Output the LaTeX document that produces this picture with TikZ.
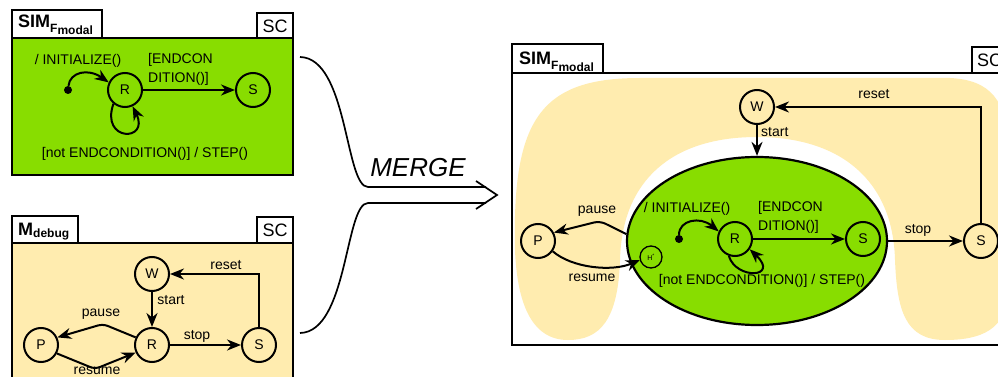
\documentclass[tikz,border=0pt]{standalone}
\usepackage{fontspec}
\setmainfont{Liberation Sans}
\usetikzlibrary{arrows.meta,shapes.geometric}
\definecolor{lime}{RGB}{136,221,0}
\definecolor{cream}{RGB}{255,236,175}
\begin{document}
\begin{tikzpicture}[x=1pt,y=-1pt,
  st/.style={circle,draw,line width=2pt,minimum size=34pt,inner sep=0pt,font=\fontsize{14}{14}\selectfont},
  lbl/.style={font=\fontsize{14}{19}\selectfont,inner sep=0pt},
  tr/.style={line width=2pt,-{Stealth[length=14pt,width=11pt,inset=4.5pt]}},
  frm/.style={line width=2pt},
  ttl/.style={font=\fontsize{18}{18}\selectfont\bfseries,inner sep=0pt,anchor=base west},
  sc/.style={font=\fontsize{18}{18}\selectfont,inner sep=0pt},
  dotst/.style={circle,fill,inner sep=0pt,minimum size=8pt}]
\clip (0,0) rectangle (998,377);

% ---------------- top-left box ----------------
\draw[frm,fill=lime] (12,38) rectangle (293,175);
\draw[frm,fill=white] (12,10) rectangle (102,38);
\draw[frm,fill=white] (257,13) rectangle (293,38);
\node[ttl] (t1) at (18,28) {SIM\raisebox{-5pt}{\fontsize{12}{12}\selectfont F\raisebox{-1.5pt}{modal}}};
\node[sc] (sc1) at (275,26) {SC};
\node[st] (R1) at (125,90) {R};
\node[st] (S1) at (253,90) {S};
\node[dotst] (d1) at (68,90) {};
\draw[tr] (d1) .. controls (70,72) and (88,68) .. (R1.155);
\draw[tr] (R1.east) -- (S1.west);
\draw[tr] (R1.230) .. controls (100,142) and (150,142) .. (R1.-65);
\node[lbl] (l1) at (78,61) {/ INITIALIZE()};
\node[lbl,align=left,anchor=west] (l2) at (148,69.5) {[ENDCON\\DITION()]};
\node[lbl] (l3) at (145,154) {[not ENDCONDITION()] / STEP()};

% ---------------- bottom-left box ----------------
\draw[frm,fill=cream] (12,243) rectangle (293,395);
\draw[frm,fill=white] (12,216) rectangle (78,243);
\draw[frm,fill=white] (257,217) rectangle (293,243);
\node[ttl] (t2) at (18,235) {M\raisebox{-2pt}{\fontsize{12}{12}\selectfont debug}};
\node[sc] (sc2) at (275,230) {SC};
\node[st] (W2) at (152,274) {W};
\node[st] (R2) at (152,345) {R};
\node[st] (P2) at (41,345) {P};
\node[st] (S2) at (259,345) {S};
\draw[tr] (W2.south) -- (R2.north);
\draw[tr] (R2.east) -- (S2.west);
\draw[tr] (S2.north) |- (W2.east);
\draw[tr,rounded corners=5pt] (R2.155) -- (103,324) -- (P2.25);
\draw[tr,rounded corners=5pt] (P2.-28) -- (95,369) -- (R2.205);
\node[lbl] (l4) at (226,265) {reset};
\node[lbl] (l5) at (171,300) {start};
\node[lbl] (l6) at (101,314) {pause};
\node[lbl] (l7) at (197,336) {stop};
\node[lbl] (l8) at (97,371) {resume};

% ---------------- merge arrow ----------------
\coordinate (m1) at (300,57);
\coordinate (m2) at (300,333);
\coordinate (m3) at (486,187);
\coordinate (m4) at (486,203);
\coordinate (h1) at (476,181);
\coordinate (h2) at (497,195);
\coordinate (h3) at (476,209);
\draw[line width=1.7pt] (m1) .. controls (348,58) and (345,187) .. (368,187) -- (m3);
\draw[line width=1.7pt] (m2) .. controls (348,332) and (345,203) .. (368,203) -- (m4);
\draw[line width=1.7pt] (h1) -- (h2) -- (h3);
\node[font=\fontsize{26}{26}\selectfont\itshape,inner sep=0pt] (mg) at (418,168) {MERGE};

% ---------------- right box ----------------
\draw[frm,fill=white] (512,73) rectangle (1012,345);
\fill[cream] (515,250)
  .. controls (512,120) and (540,78) .. (640,78)
  -- (950,78)
  .. controls (990,80) and (1008,100) .. (1008,150)
  -- (1008,290)
  .. controls (1008,330) and (980,340) .. (945,340)
  .. controls (905,340) and (897,310) .. (895,260)
  .. controls (893,180) and (840,137) .. (757,137)
  .. controls (672,137) and (622,180) .. (620,260)
  .. controls (618,320) and (600,340) .. (568,340)
  .. controls (530,340) and (517,300) .. (515,250) -- cycle;
\draw[frm] (512,73) rectangle (1012,345);
\draw[frm,fill=white] (512,44) rectangle (603,73);
\draw[frm,fill=white] (972,47) rectangle (1010,73);
\node[ttl] (t3) at (519,65) {SIM\raisebox{-5pt}{\fontsize{12}{12}\selectfont F\raisebox{-1.5pt}{modal}}};
\node[sc,anchor=west] (sc3) at (977,60) {SC};

\node[ellipse,draw,line width=2.2pt,fill=lime,minimum width=260pt,minimum height=168pt,inner sep=0pt] (E) at (757,241) {};
\node[st] (W3) at (757,107) {W};
\node[st] (P3) at (538,241) {P};
\node[st] (S4) at (981,241) {S};
\node[st] (R3) at (735,239) {R};
\node[st] (S3) at (863,239) {S};
\node[dotst] (d3) at (679,239) {};
\node[circle,draw,line width=1.3pt,minimum size=22pt,inner sep=0pt,font=\fontsize{7}{7}\selectfont] (H) at (651,257) {H\textsuperscript{*}};

\draw[tr] (W3.south) -- (E.north);
\draw[tr] (S4.north) |- (W3.east);
\draw[tr] (E.east) -- (S4.west);
\draw[tr,rounded corners=6pt] (E.177) -- (600,221) -- (P3.28);
\draw[tr] (P3.-35) .. controls (572,268) and (612,272) .. (H.195);
\draw[tr] (d3) .. controls (679,220) and (700,216) .. (R3.155);
\draw[tr] (R3.east) -- (S3.west);
\draw[tr] (R3.250) .. controls (736,280) and (780,278) .. (R3.-35);

\node[lbl] (l9) at (874,94) {reset};
\node[lbl,anchor=west] (l10) at (761,132) {start};
\node[lbl] (l11) at (918,230) {stop};
\node[lbl] (l12) at (597,211) {pause};
\node[lbl] (l13) at (592,278) {resume};
\node[lbl] (l14) at (687,209) {/ INITIALIZE()};
\node[lbl,align=left,anchor=west] (l15) at (758,217.5) {[ENDCON\\DITION()]};
\node[lbl] (l16) at (762,281) {[not ENDCONDITION()] / STEP()};
\end{tikzpicture}
\end{document}
